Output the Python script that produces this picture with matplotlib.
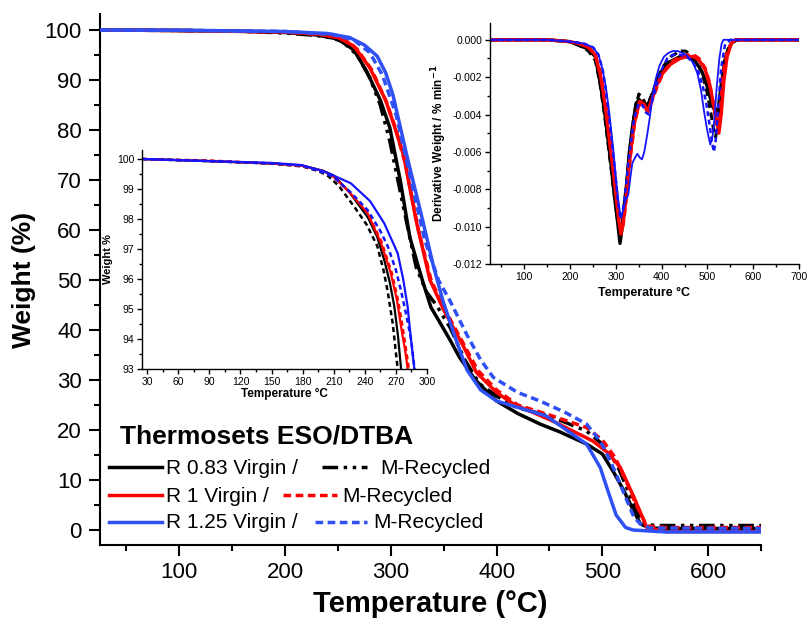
import matplotlib
matplotlib.use("Agg")
import matplotlib.pyplot as plt
from matplotlib.lines import Line2D
from matplotlib.ticker import MultipleLocator, FormatStrFormatter

plt.rcParams['font.family'] = ['Liberation Sans', 'DejaVu Sans']
plt.rcParams['axes.unicode_minus'] = False

# ---------------- main TGA data (Temperature °C, Weight %) ----------------
t_r083_v = [25, 100, 150, 200, 230, 250, 265, 277, 290, 299, 309, 318, 330, 338, 345, 356, 365, 380, 400, 420, 441, 460, 485, 500, 510, 520, 528, 536, 545, 560, 650]
w_r083_v = [100, 99.9, 99.8, 99.5, 99.0, 98.2, 96.0, 91.8, 86.0, 80.5, 69.8, 58.5, 49.8, 44.5, 42.0, 38.0, 34.5, 30.0, 25.8, 23.3, 21.2, 19.6, 17.2, 15.2, 11.8, 8.0, 4.5, 1.2, 0.4, 0.3, 0.3]

t_r083_m = [25, 100, 150, 200, 230, 245, 255, 268, 280, 290, 299, 312, 324, 334, 343, 356, 370, 384, 400, 419, 450, 485, 504, 515, 523, 531, 539, 550, 650]
w_r083_m = [100, 99.9, 99.8, 99.4, 98.9, 98.4, 97.6, 95.0, 90.5, 85.0, 77.8, 64.5, 52.5, 47.5, 45.0, 40.5, 34.0, 29.2, 26.8, 24.5, 22.8, 19.8, 16.5, 12.5, 8.5, 4.5, 1.2, 0.9, 0.9]

t_r1_v = [25, 100, 200, 230, 250, 265, 280, 295, 303, 312, 324, 337, 350, 368, 381, 400, 416, 453, 491, 505, 517, 530, 542, 560, 650]
w_r1_v = [100, 99.9, 99.6, 99.2, 98.5, 96.8, 92.5, 86.0, 81.0, 75.0, 61.8, 50.0, 44.0, 37.0, 31.5, 27.5, 25.2, 21.8, 17.8, 15.5, 12.5, 6.5, 0.5, -0.3, -0.3]

t_r1_m = [25, 100, 200, 240, 255, 268, 282, 296, 305, 314, 326, 338, 350, 368, 382, 400, 420, 450, 485, 500, 512, 522, 532, 542, 560, 650]
w_r1_m = [100, 99.9, 99.6, 99.0, 98.2, 96.2, 92.0, 85.5, 80.0, 73.0, 60.0, 50.0, 44.5, 37.5, 32.0, 28.0, 25.0, 23.0, 20.5, 18.0, 14.5, 10.0, 5.0, 0.8, 0.5, 0.5]

t_r125_v = [25, 100, 200, 240, 261, 275, 287, 295, 302, 315, 330, 340, 349, 360, 372, 385, 400, 447, 485, 498, 505, 513, 522, 529, 560, 650]
w_r125_v = [100, 99.95, 99.7, 99.3, 98.5, 97.0, 94.8, 91.5, 87.0, 75.0, 62.0, 53.0, 46.0, 39.0, 32.0, 28.0, 25.8, 22.8, 17.2, 12.5, 8.0, 3.0, 0.5, 0.0, -0.4, -0.4]

t_r125_m = [25, 100, 200, 245, 265, 280, 292, 305, 318, 332, 345, 356, 372, 385, 397, 420, 441, 465, 485, 498, 506, 513, 522, 530, 536, 545, 650]
w_r125_m = [100, 99.95, 99.7, 99.1, 98.0, 95.5, 91.0, 83.0, 71.0, 58.0, 50.0, 45.8, 39.0, 34.0, 30.5, 27.5, 25.8, 23.5, 21.2, 17.8, 14.5, 11.2, 6.5, 2.5, 1.2, 0.4, 0.3]

# ---------------- inset 1: zoomed TGA ----------------
ti_r083_v = [25, 90, 150, 180, 200, 210, 225, 243, 252, 259, 264, 268.4, 272, 275, 277]
wi_r083_v = [100, 99.93, 99.85, 99.78, 99.6, 99.45, 98.9, 98.05, 97.4, 96.6, 95.9, 95.1, 94.1, 93.0, 92.0]
ti_r083_m = [25, 90, 150, 180, 195, 204, 215, 230, 242, 252, 258, 262, 267, 271.7, 274]
wi_r083_m = [100, 99.93, 99.85, 99.75, 99.6, 99.45, 99.1, 98.4, 97.8, 97.1, 96.3, 95.6, 94.5, 93.0, 92.0]
ti_r1_v = [25, 90, 150, 180, 200, 210, 225, 242.6, 255.6, 265, 271, 275, 279, 281.4, 283]
wi_r1_v = [100, 99.93, 99.85, 99.78, 99.6, 99.4, 98.9, 98.2, 97.2, 96.2, 95.3, 94.4, 93.6, 93.0, 92.0]
ti_r1_m = [25, 90, 150, 180, 200, 210, 225, 242, 256, 266, 272, 276, 280, 282.5, 284]
wi_r1_m = [100, 99.95, 99.85, 99.76, 99.58, 99.4, 98.9, 98.25, 97.25, 96.2, 95.3, 94.5, 93.6, 93.0, 92.0]
ti_r125_v = [25, 90, 150, 178, 200, 226.5, 245, 258.7, 266, 271.7, 277, 281.3, 284.5, 287.8, 289]
wi_r125_v = [100, 99.93, 99.87, 99.8, 99.6, 99.19, 98.6, 97.86, 97.3, 96.86, 96.0, 95.08, 94.0, 93.0, 92.6]
ti_r125_m = [25, 90, 150, 180, 200, 210, 226, 242.7, 255, 262, 270, 275, 280, 284.6, 288, 289]
wi_r125_m = [100, 99.93, 99.85, 99.78, 99.55, 99.4, 98.9, 98.3, 97.6, 97.1, 96.3, 95.6, 94.8, 94.0, 93.0, 92.6]

# ---------------- inset 2: DTG ----------------
td_r083_v = [25, 150, 200, 220, 240, 255, 267, 275, 282, 290, 296, 303, 309, 314, 318, 324, 329, 336, 344, 351, 358, 366, 373, 380, 390, 402, 415, 424, 440, 453, 465, 475, 488, 497, 505, 512, 519, 524, 530, 537, 545, 555, 563, 700]
d_r083_v = [0, 0, -0.0001, -0.0003, -0.0005, -0.0009, -0.0025, -0.0038, -0.0052, -0.0068, -0.0082, -0.0096, -0.0109, -0.0100, -0.0089, -0.0076, -0.0061, -0.0047, -0.0034, -0.0032, -0.0034, -0.0036, -0.0033, -0.0029, -0.0022, -0.0016, -0.0012, -0.0011, -0.0009, -0.0009, -0.0010, -0.0012, -0.0017, -0.0023, -0.0030, -0.0036, -0.0039, -0.0036, -0.0025, -0.0012, -0.0005, -0.0001, 0, 0]

td_r083_m = [25, 150, 200, 220, 240, 255, 265, 275, 283, 291, 298, 304, 310, 316, 322, 330, 340, 350, 358, 366, 374, 382, 392, 404, 420, 440, 452, 465, 478, 490, 500, 508, 514, 518, 523, 530, 540, 552, 565, 700]
d_r083_m = [0, 0, -0.0001, -0.0003, -0.0006, -0.0011, -0.0023, -0.0040, -0.0056, -0.0072, -0.0086, -0.0097, -0.0105, -0.0096, -0.0080, -0.0060, -0.0040, -0.0029, -0.0031, -0.0035, -0.0032, -0.0027, -0.0020, -0.0014, -0.0009, -0.0006, -0.0006, -0.0008, -0.0012, -0.0019, -0.0029, -0.0040, -0.0049, -0.0052, -0.0042, -0.0024, -0.0009, -0.0002, 0, 0]

td_r1_v = [25, 150, 200, 220, 240, 255, 267, 277, 285, 293, 300, 306, 311, 316, 322, 330, 340, 352, 360, 370, 380, 390, 402, 420, 440, 455, 470, 482, 495, 505, 513, 520, 525, 530, 536, 543, 552, 560, 700]
d_r1_v = [0, 0, -0.0001, -0.0002, -0.0004, -0.0008, -0.0020, -0.0036, -0.0052, -0.0068, -0.0083, -0.0096, -0.0104, -0.0098, -0.0085, -0.0065, -0.0045, -0.0033, -0.0034, -0.0038, -0.0031, -0.0024, -0.0018, -0.0013, -0.0010, -0.0009, -0.0009, -0.0011, -0.0016, -0.0024, -0.0034, -0.0044, -0.0050, -0.0040, -0.0022, -0.0009, -0.0002, 0, 0]

td_r1_m = [25, 150, 200, 220, 240, 255, 267, 278, 287, 295, 302, 308, 313, 318, 324, 332, 342, 352, 360, 370, 380, 392, 405, 420, 440, 455, 470, 482, 495, 505, 512, 518, 523, 528, 534, 542, 552, 562, 700]
d_r1_m = [0, 0, -0.0001, -0.0002, -0.0004, -0.0008, -0.0018, -0.0034, -0.0050, -0.0067, -0.0082, -0.0095, -0.0103, -0.0096, -0.0082, -0.0062, -0.0043, -0.0034, -0.0035, -0.0039, -0.0032, -0.0024, -0.0017, -0.0012, -0.0009, -0.0008, -0.0008, -0.0010, -0.0015, -0.0023, -0.0033, -0.0043, -0.0047, -0.0036, -0.0018, -0.0007, -0.0002, 0, 0]

td_r125_v = [25, 150, 200, 230, 250, 262, 270, 278, 286, 294, 300, 306, 311, 316, 321, 327, 332, 336, 342, 347, 352, 357, 362, 369, 375, 380, 387, 395, 405, 415, 424, 435, 445, 453, 462, 470, 478, 486, 493, 500, 506, 511, 515, 520, 526, 531, 535, 550, 700]
d_r125_v = [0, 0, -0.0001, -0.0002, -0.0004, -0.0008, -0.0015, -0.0025, -0.0040, -0.0058, -0.0074, -0.0088, -0.0095, -0.0091, -0.0086, -0.0083, -0.0073, -0.0066, -0.0063, -0.0061, -0.0063, -0.0064, -0.0060, -0.0050, -0.0040, -0.0030, -0.0021, -0.0014, -0.0009, -0.0007, -0.0006, -0.0006, -0.0007, -0.0008, -0.0010, -0.0013, -0.0018, -0.0027, -0.0039, -0.0049, -0.0056, -0.0052, -0.0043, -0.0026, -0.0010, -0.0002, 0, 0, 0]

td_r125_m = [25, 150, 200, 230, 250, 262, 272, 282, 290, 298, 304, 310, 316, 322, 330, 340, 350, 358, 366, 372, 380, 390, 400, 412, 425, 440, 455, 468, 480, 490, 498, 505, 510, 514, 518, 524, 530, 538, 550, 700]
d_r125_m = [0, 0, -0.0001, -0.0002, -0.0004, -0.0008, -0.0017, -0.0034, -0.0052, -0.0070, -0.0085, -0.0096, -0.0090, -0.0078, -0.0060, -0.0042, -0.0034, -0.0035, -0.0039, -0.0040, -0.0032, -0.0023, -0.0016, -0.0010, -0.0008, -0.0008, -0.0009, -0.0012, -0.0017, -0.0025, -0.0035, -0.0046, -0.0055, -0.0060, -0.0054, -0.0034, -0.0015, -0.0003, 0, 0]

legend_title = "Thermosets ESO/DTBA"
legend_virgin = ["R 0.83 Virgin /", "R 1 Virgin /", "R 1.25 Virgin /"]
legend_recycled = "M-Recycled"

# ---------------- styles ----------------
BLACK = "#000000"
RED = "#FF0000"
BLUE_MAIN = "#2F50F5"
BLUE_IN = "#1414FF"
LS_BLACK_M = (0, (4.5, 1.6, 1.0, 1.6, 1.0, 1.6))
LS_RED_M = (0, (2.2, 1.3))
LS_BLUE_M = (0, (2.2, 1.3))
LW_MAIN = 2.5

W, H = 811, 622
fig = plt.figure(figsize=(W / 100, H / 100), dpi=100)


def frac_box(x0, y0, x1, y1):
    return [x0 / W, 1 - y1 / H, (x1 - x0) / W, (y1 - y0) / H]


def style_axes(ax, lw, tl_major, tl_minor, fs):
    ax.spines['top'].set_visible(False)
    ax.spines['right'].set_visible(False)
    for s in ('left', 'bottom'):
        ax.spines[s].set_linewidth(lw)
    ax.tick_params(which='major', direction='out', length=tl_major, width=lw, labelsize=fs)
    ax.tick_params(which='minor', direction='out', length=tl_minor, width=lw)


# ---------------- main axes ----------------
ax = fig.add_axes(frac_box(100, 14, 761, 545))
ax.plot(t_r083_v, w_r083_v, color=BLACK, lw=LW_MAIN, zorder=3)
ax.plot(t_r083_m, w_r083_m, color=BLACK, lw=LW_MAIN, ls=LS_BLACK_M, zorder=3)
ax.plot(t_r1_v, w_r1_v, color=RED, lw=LW_MAIN, zorder=4)
ax.plot(t_r1_m, w_r1_m, color=RED, lw=LW_MAIN, ls=LS_RED_M, zorder=4)
ax.plot(t_r125_v, w_r125_v, color=BLUE_MAIN, lw=LW_MAIN, zorder=5)
ax.plot(t_r125_m, w_r125_m, color=BLUE_MAIN, lw=LW_MAIN, ls=LS_BLUE_M, zorder=5)
ax.set_xlim(25, 650)
ax.set_ylim(-3, 103.2)
ax.xaxis.set_major_locator(MultipleLocator(100))
ax.xaxis.set_minor_locator(MultipleLocator(50))
ax.set_yticks(range(0, 101, 10))
ax.yaxis.set_minor_locator(MultipleLocator(5))
style_axes(ax, 1.5, 8, 4, 16)
ax.tick_params(axis='x', which='major', pad=4)
ax.tick_params(axis='y', which='major', pad=5)
ax.set_ylabel("Weight (%)", fontsize=19, fontweight='bold', labelpad=6)
ax.set_xlabel("Temperature (°C)", fontsize=21, fontweight='bold', labelpad=5)
ax.patch.set_alpha(0)

# ---------------- inset 1 ----------------
a1 = fig.add_axes(frac_box(142, 150, 427, 369))
a1.patch.set_alpha(0)
a1.plot(ti_r083_v, wi_r083_v, color=BLACK, lw=1.6)
a1.plot(ti_r083_m, wi_r083_m, color=BLACK, lw=1.8, ls=(0, (2.0, 1.4)))
a1.plot(ti_r1_v, wi_r1_v, color=RED, lw=1.6)
a1.plot(ti_r1_m, wi_r1_m, color=RED, lw=1.8, ls=(0, (2.0, 1.4)))
a1.plot(ti_r125_v, wi_r125_v, color=BLUE_IN, lw=1.6)
a1.plot(ti_r125_m, wi_r125_m, color=BLUE_IN, lw=1.8, ls=(0, (2.0, 1.4)))
a1.set_xlim(25, 300)
a1.set_ylim(93, 100.3)
a1.set_xticks(range(30, 301, 30))
a1.xaxis.set_minor_locator(MultipleLocator(15))
a1.yaxis.set_major_locator(MultipleLocator(1))
a1.yaxis.set_minor_locator(MultipleLocator(0.5))
style_axes(a1, 1.0, 3.5, 2, 7.5)
a1.tick_params(pad=2)
a1.set_xlabel("Temperature °C", fontsize=8.5, fontweight='bold', labelpad=1)
a1.set_ylabel("Weight %", fontsize=8, fontweight='bold', labelpad=3)

# ---------------- inset 2 ----------------
a2 = fig.add_axes(frac_box(490, 23, 799, 264))
a2.patch.set_alpha(0)
a2.plot(td_r083_v, d_r083_v, color=BLACK, lw=2.4)
a2.plot(td_r083_m, d_r083_m, color=BLACK, lw=2.2, ls=(0, (2.5, 1.5)))
a2.plot(td_r1_v, d_r1_v, color=RED, lw=2.4)
a2.plot(td_r1_m, d_r1_m, color=RED, lw=2.2, ls=(0, (2.5, 1.5)))
a2.plot(td_r125_v, d_r125_v, color=BLUE_IN, lw=1.3)
a2.plot(td_r125_m, d_r125_m, color=BLUE_IN, lw=1.8, ls=(0, (2.0, 1.4)))
a2.set_xlim(25, 700)
a2.set_ylim(-0.012, 0.0009)
a2.set_xticks(range(100, 701, 100))
a2.xaxis.set_minor_locator(MultipleLocator(50))
a2.set_yticks([0, -0.002, -0.004, -0.006, -0.008, -0.010, -0.012])
a2.yaxis.set_minor_locator(MultipleLocator(0.001))
a2.yaxis.set_major_formatter(FormatStrFormatter('%.3f'))
style_axes(a2, 1.0, 3.5, 2, 7.5)
a2.tick_params(pad=2)
a2.set_xlabel("Temperature °C", fontsize=9, fontweight='bold', labelpad=4)
a2.set_ylabel("Derivative Weight / % min$^{\\mathbf{-1}}$", fontsize=8.5, fontweight='bold', labelpad=3)

# ---------------- legend (manual, Origin-style) ----------------
def fx(x):
    return x / W


def fy(y):
    return 1 - y / H


fig.text(fx(120), fy(436), legend_title, fontsize=19, fontweight='bold', va='center', ha='left')
rows = [
    (467, BLACK, '-', LS_BLACK_M, 322, 367, 380),
    (495, RED, '-', LS_RED_M, 283, 337, 342),
    (522, BLUE_MAIN, '-', LS_BLUE_M, 315, 367, 373),
]
for (yy, col, ls1, ls2, x2a, x2b, xt2), lab in zip(rows, legend_virgin):
    fig.add_artist(Line2D([fx(109), fx(162)], [fy(yy), fy(yy)], color=col, lw=LW_MAIN,
                          ls=ls1, transform=fig.transFigure))
    fig.text(fx(166), fy(yy + 1), lab, fontsize=15, va='center', ha='left')
    fig.add_artist(Line2D([fx(x2a), fx(x2b)], [fy(yy), fy(yy)], color=col, lw=LW_MAIN,
                          ls=ls2, transform=fig.transFigure))
    fig.text(fx(xt2), fy(yy + 1), legend_recycled, fontsize=15, va='center', ha='left')

fig.savefig("out.png", dpi=100)
